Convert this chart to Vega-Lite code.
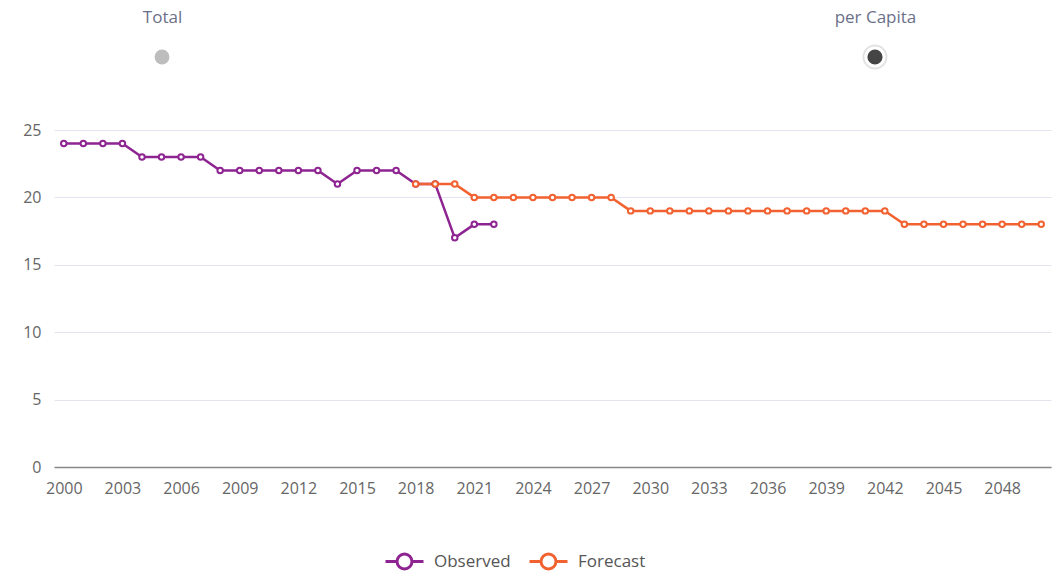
{
  "$schema": "https://vega.github.io/schema/vega-lite/v6.json",
  "background": "white",
  "padding": {"left": 22, "top": 8, "right": 9, "bottom": 0},
  "config": {"font": "Open Sans", "view": {"stroke": null}, "concat": {"spacing": 51}},
  "bounds": "flush",
  "resolve": {"scale": {"color": "independent", "size": "independent"}, "legend": {"color": "independent", "size": "independent"}},
  "datasets": {
    "toggle": [
      {"option": "Total"},
      {"option": "per Capita"}
    ],
    "series": [
      {"year": 2000, "value": 24, "series": "Observed"},
      {"year": 2001, "value": 24, "series": "Observed"},
      {"year": 2002, "value": 24, "series": "Observed"},
      {"year": 2003, "value": 24, "series": "Observed"},
      {"year": 2004, "value": 23, "series": "Observed"},
      {"year": 2005, "value": 23, "series": "Observed"},
      {"year": 2006, "value": 23, "series": "Observed"},
      {"year": 2007, "value": 23, "series": "Observed"},
      {"year": 2008, "value": 22, "series": "Observed"},
      {"year": 2009, "value": 22, "series": "Observed"},
      {"year": 2010, "value": 22, "series": "Observed"},
      {"year": 2011, "value": 22, "series": "Observed"},
      {"year": 2012, "value": 22, "series": "Observed"},
      {"year": 2013, "value": 22, "series": "Observed"},
      {"year": 2014, "value": 21, "series": "Observed"},
      {"year": 2015, "value": 22, "series": "Observed"},
      {"year": 2016, "value": 22, "series": "Observed"},
      {"year": 2017, "value": 22, "series": "Observed"},
      {"year": 2018, "value": 21, "series": "Observed"},
      {"year": 2019, "value": 21, "series": "Observed"},
      {"year": 2020, "value": 17, "series": "Observed"},
      {"year": 2021, "value": 18, "series": "Observed"},
      {"year": 2022, "value": 18, "series": "Observed"},
      {"year": 2018, "value": 21, "series": "Forecast"},
      {"year": 2019, "value": 21, "series": "Forecast"},
      {"year": 2020, "value": 21, "series": "Forecast"},
      {"year": 2021, "value": 20, "series": "Forecast"},
      {"year": 2022, "value": 20, "series": "Forecast"},
      {"year": 2023, "value": 20, "series": "Forecast"},
      {"year": 2024, "value": 20, "series": "Forecast"},
      {"year": 2025, "value": 20, "series": "Forecast"},
      {"year": 2026, "value": 20, "series": "Forecast"},
      {"year": 2027, "value": 20, "series": "Forecast"},
      {"year": 2028, "value": 20, "series": "Forecast"},
      {"year": 2029, "value": 19, "series": "Forecast"},
      {"year": 2030, "value": 19, "series": "Forecast"},
      {"year": 2031, "value": 19, "series": "Forecast"},
      {"year": 2032, "value": 19, "series": "Forecast"},
      {"year": 2033, "value": 19, "series": "Forecast"},
      {"year": 2034, "value": 19, "series": "Forecast"},
      {"year": 2035, "value": 19, "series": "Forecast"},
      {"year": 2036, "value": 19, "series": "Forecast"},
      {"year": 2037, "value": 19, "series": "Forecast"},
      {"year": 2038, "value": 19, "series": "Forecast"},
      {"year": 2039, "value": 19, "series": "Forecast"},
      {"year": 2040, "value": 19, "series": "Forecast"},
      {"year": 2041, "value": 19, "series": "Forecast"},
      {"year": 2042, "value": 19, "series": "Forecast"},
      {"year": 2043, "value": 18, "series": "Forecast"},
      {"year": 2044, "value": 18, "series": "Forecast"},
      {"year": 2045, "value": 18, "series": "Forecast"},
      {"year": 2046, "value": 18, "series": "Forecast"},
      {"year": 2047, "value": 18, "series": "Forecast"},
      {"year": 2048, "value": 18, "series": "Forecast"},
      {"year": 2049, "value": 18, "series": "Forecast"},
      {"year": 2050, "value": 18, "series": "Forecast"}
    ]
  },
  "vconcat": [
    {
      "width": 929,
      "height": 44,
      "data": {"name": "toggle"},
      "encoding": {
        "x": {
          "field": "option",
          "type": "nominal",
          "sort": null,
          "scale": {"type": "point", "domain": ["Total", "per Capita"], "padding": 0.1515},
          "axis": {"orient": "top", "title": null, "domain": false, "ticks": false, "labelFontSize": 17, "labelColor": "#6b7089", "labelPadding": 9, "labelAngle": 0}
        }
      },
      "layer": [
        {
          "transform": [{"filter": "datum.option === 'per Capita'"}],
          "mark": {"type": "point", "filled": true, "size": 620, "color": "#d6d6d6", "opacity": 0.7}
        },
        {
          "mark": {"type": "point", "filled": true, "stroke": "white", "strokeOpacity": 1, "opacity": 1},
          "encoding": {
            "color": {"field": "option", "type": "nominal", "scale": {"domain": ["Total", "per Capita"], "range": ["#bdbdbd", "#454545"]}, "legend": null},
            "size": {"field": "option", "type": "nominal", "scale": {"domain": ["Total", "per Capita"], "range": [220, 330]}, "legend": null},
            "strokeWidth": {"condition": {"test": "datum.option === 'per Capita'", "value": 3}, "value": 0}
          }
        }
      ]
    },
    {
      "width": 997,
      "height": 337,
      "data": {"name": "series"},
      "mark": {"type": "line", "strokeWidth": 2.5, "point": {"filled": false, "fill": "white", "size": 30, "strokeWidth": 2}},
      "encoding": {
        "x": {
          "field": "year",
          "type": "quantitative",
          "scale": {"domain": [1999.5, 2050.5], "nice": false, "zero": false},
          "axis": {"title": null, "values": [2000, 2003, 2006, 2009, 2012, 2015, 2018, 2021, 2024, 2027, 2030, 2033, 2036, 2039, 2042, 2045, 2048], "format": "d", "grid": false, "ticks": false, "domainColor": "#888888", "domainWidth": 1.5, "labelFontSize": 16, "labelColor": "#666666", "labelPadding": 13}
        },
        "y": {
          "field": "value",
          "type": "quantitative",
          "scale": {"domain": [0, 25], "nice": false},
          "axis": {"title": null, "values": [0, 5, 10, 15, 20, 25], "domain": false, "ticks": false, "gridColor": "#e4e4f0", "gridWidth": 1.2, "labelFontSize": 16, "labelColor": "#666666", "labelPadding": 13}
        },
        "color": {
          "field": "series",
          "type": "nominal",
          "sort": null,
          "scale": {"domain": ["Observed", "Forecast"], "range": ["#8E2491", "#F26230"]},
          "legend": {"orient": "none", "legendX": 336, "legendY": 417, "direction": "horizontal", "title": null, "labelFontSize": 17, "labelColor": "#555555", "symbolType": "M-1.5,0L-0.59,0M0.59,0L1.5,0M0.59,0A0.59,0.59,0,1,1,-0.59,0A0.59,0.59,0,1,1,0.59,0", "symbolSize": 642, "symbolStrokeWidth": 3, "symbolFillColor": "white", "labelOffset": 15, "columnPadding": 12}
        }
      }
    }
  ]
}
